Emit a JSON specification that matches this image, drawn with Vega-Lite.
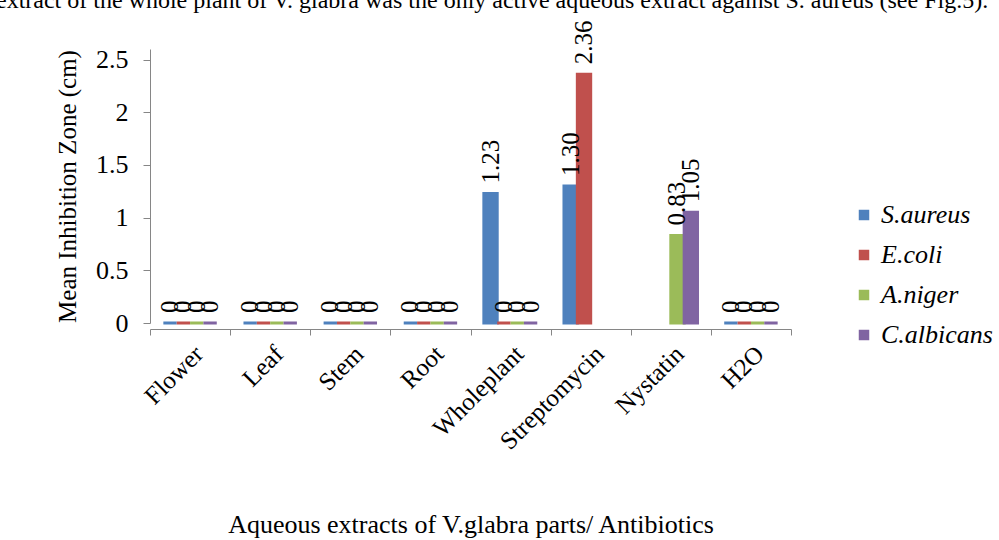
{
  "$schema": "https://vega.github.io/schema/vega-lite/v6.json",
  "autosize": "none",
  "width": 641,
  "height": 274,
  "padding": {"left": 150, "top": 49, "right": 208, "bottom": 217},
  "background": "white",
  "title": {
    "text": "extract of the whole plant of V. glabra was the only active aqueous extract against S. aureus (see Fig.5).",
    "anchor": "start",
    "frame": "group",
    "orient": "top",
    "offset": 5,
    "dx": -154,
    "dy": 16,
    "font": "Liberation Serif",
    "fontSize": 24,
    "fontWeight": "normal",
    "color": "black",
    "baseline": "alphabetic"
  },
  "data": {
    "values": [
      {"part": "Flower", "organism": "S.aureus", "value": 0, "label": "0"},
      {"part": "Flower", "organism": "E.coli", "value": 0, "label": "0"},
      {"part": "Flower", "organism": "A.niger", "value": 0, "label": "0"},
      {"part": "Flower", "organism": "C.albicans", "value": 0, "label": "0"},
      {"part": "Leaf", "organism": "S.aureus", "value": 0, "label": "0"},
      {"part": "Leaf", "organism": "E.coli", "value": 0, "label": "0"},
      {"part": "Leaf", "organism": "A.niger", "value": 0, "label": "0"},
      {"part": "Leaf", "organism": "C.albicans", "value": 0, "label": "0"},
      {"part": "Stem", "organism": "S.aureus", "value": 0, "label": "0"},
      {"part": "Stem", "organism": "E.coli", "value": 0, "label": "0"},
      {"part": "Stem", "organism": "A.niger", "value": 0, "label": "0"},
      {"part": "Stem", "organism": "C.albicans", "value": 0, "label": "0"},
      {"part": "Root", "organism": "S.aureus", "value": 0, "label": "0"},
      {"part": "Root", "organism": "E.coli", "value": 0, "label": "0"},
      {"part": "Root", "organism": "A.niger", "value": 0, "label": "0"},
      {"part": "Root", "organism": "C.albicans", "value": 0, "label": "0"},
      {"part": "Wholeplant", "organism": "S.aureus", "value": 1.23, "label": "1.23"},
      {"part": "Wholeplant", "organism": "E.coli", "value": 0, "label": "0"},
      {"part": "Wholeplant", "organism": "A.niger", "value": 0, "label": "0"},
      {"part": "Wholeplant", "organism": "C.albicans", "value": 0, "label": "0"},
      {"part": "Streptomycin", "organism": "S.aureus", "value": 1.30, "label": "1.30"},
      {"part": "Streptomycin", "organism": "E.coli", "value": 2.36, "label": "2.36"},
      {"part": "Nystatin", "organism": "A.niger", "value": 0.83, "label": "0.83"},
      {"part": "Nystatin", "organism": "C.albicans", "value": 1.05, "label": "1.05"},
      {"part": "H2O", "organism": "S.aureus", "value": 0, "label": "0"},
      {"part": "H2O", "organism": "E.coli", "value": 0, "label": "0"},
      {"part": "H2O", "organism": "A.niger", "value": 0, "label": "0"},
      {"part": "H2O", "organism": "C.albicans", "value": 0, "label": "0"}
    ]
  },
  "encoding": {
    "x": {
      "field": "part",
      "type": "nominal",
      "sort": ["Flower", "Leaf", "Stem", "Root", "Wholeplant", "Streptomycin", "Nystatin", "H2O"],
      "scale": {"paddingInner": 0, "paddingOuter": 0},
      "axis": {
        "title": "Aqueous extracts of V.glabra parts/ Antibiotics",
        "titleFont": "Liberation Serif",
        "titleFontSize": 26,
        "titleFontWeight": "normal",
        "titleColor": "black",
        "titleY": 203,
        "titleBaseline": "alphabetic",
        "labelAngle": -45,
        "labelAlign": "right",
        "labelBaseline": "top",
        "labelFont": "Liberation Serif",
        "labelFontSize": 25,
        "labelColor": "black",
        "labelPadding": 6,
        "tickBand": "extent",
        "tickSize": 6,
        "tickColor": "#868686",
        "domainColor": "#868686",
        "offset": 6
      }
    },
    "xOffset": {
      "field": "organism",
      "type": "nominal",
      "scale": {"domain": ["S.aureus", "E.coli", "A.niger", "C.albicans"], "paddingInner": 0, "paddingOuter": 1.1}
    }
  },
  "layer": [
    {
      "mark": {"type": "bar", "strokeWidth": 3},
      "encoding": {
        "y": {
          "field": "value",
          "type": "quantitative",
          "scale": {"domain": [0, 2.5]},
          "axis": {
            "title": "Mean Inhibition Zone (cm)",
            "titleFont": "Liberation Serif",
            "titleFontSize": 25,
            "titleFontWeight": "normal",
            "titleColor": "black",
            "titleX": -83,
            "titleBaseline": "middle",
            "values": [0, 0.5, 1, 1.5, 2, 2.5],
            "labelFont": "Liberation Serif",
            "labelFontSize": 26,
            "labelColor": "black",
            "labelPadding": 15,
            "tickSize": 7,
            "tickColor": "#868686",
            "domainColor": "#868686",
            "grid": false,
            "format": "~g"
          }
        },
        "color": {
          "field": "organism",
          "type": "nominal",
          "scale": {
            "domain": ["S.aureus", "E.coli", "A.niger", "C.albicans"],
            "range": ["#4F81BD", "#C0504D", "#9BBB59", "#8064A2"]
          },
          "legend": {
            "title": null,
            "orient": "none",
            "legendX": 701,
            "legendY": 153,
            "symbolType": "square",
            "symbolSize": 110,
            "symbolStrokeWidth": 0,
            "labelFont": "Liberation Serif",
            "labelFontSize": 26,
            "labelFontStyle": "italic",
            "labelColor": "black",
            "labelOffset": 4,
            "rowPadding": 14
          }
        },
        "stroke": {
          "field": "organism",
          "type": "nominal",
          "scale": {
            "domain": ["S.aureus", "E.coli", "A.niger", "C.albicans"],
            "range": ["#4F81BD", "#C0504D", "#9BBB59", "#8064A2"]
          },
          "legend": null
        }
      }
    },
    {
      "mark": {
        "type": "text",
        "angle": 270,
        "align": "left",
        "baseline": "middle",
        "dx": 10,
        "font": "Liberation Serif",
        "fontSize": 25,
        "color": "black"
      },
      "encoding": {
        "y": {"field": "value", "type": "quantitative"},
        "text": {"field": "label", "type": "nominal"}
      }
    }
  ],
  "config": {
    "view": {"stroke": null}
  }
}
